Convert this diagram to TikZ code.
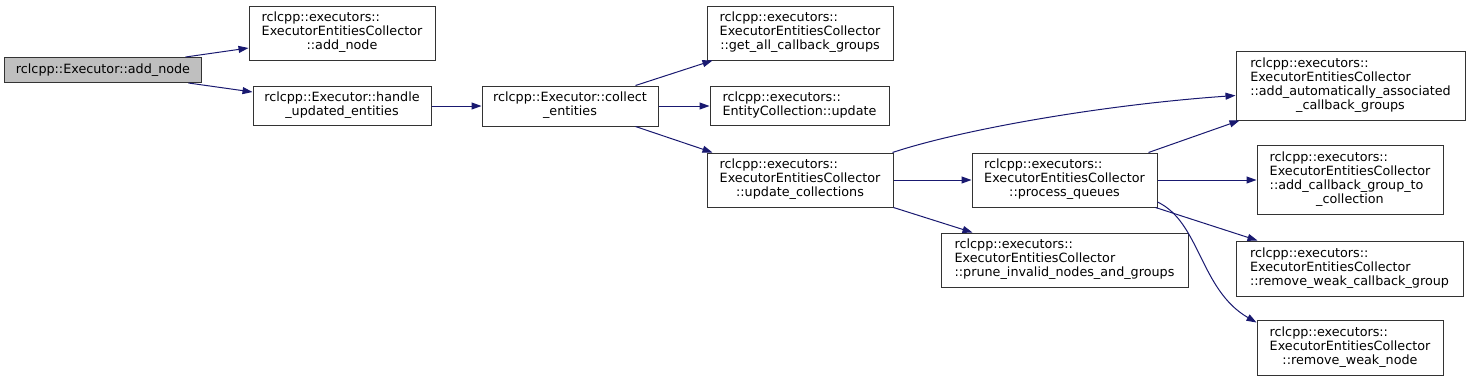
\documentclass[tikz,border=0pt]{standalone}
\usepackage{fontspec}
\setmainfont{DejaVu Sans}
\usetikzlibrary{arrows.meta,calc}
\definecolor{edgeblue}{RGB}{25,25,112}
\definecolor{nodegrey}{RGB}{191,191,191}
\definecolor{border}{RGB}{51,51,51}
\newcommand{\tlc}[2]{\begin{tabular}{@{}l@{}}#1\\\multicolumn{1}{@{}c@{}}{#2}\end{tabular}}
\newcommand{\tcc}[2]{\begin{tabular}{@{}c@{}}#1\\#2\end{tabular}}
\tikzset{
  fn/.style={draw=border, line width=1bp, rectangle, inner sep=0pt, fill=white,
    font=\fontsize{12.8}{14}\selectfont},
  edge/.style={draw=edgeblue, line width=1bp, -{Triangle[length=10bp,width=7bp]}},
}
\begin{document}
\begin{tikzpicture}[x=1bp,y=-1bp]
\useasboundingbox (0,0) rectangle (1469,381);
\node[fn, fill=nodegrey, minimum width=196bp, minimum height=25bp] (A) at (103,70) {rclcpp::Executor::add\_node};
\node[fn, minimum width=186bp, minimum height=54bp] (B) at (342,33) {\tlc{rclcpp::executors::\\ExecutorEntitiesCollector}{::add\_node}};
\node[fn, minimum width=178bp, minimum height=39bp] (C) at (342,106) {\tcc{rclcpp::Executor::handle}{\_updated\_entities}};
\node[fn, minimum width=176bp, minimum height=40bp] (D) at (570,106) {\tcc{rclcpp::Executor::collect}{\_entities}};
\node[fn, minimum width=186bp, minimum height=54bp] (E) at (800,33) {\tlc{rclcpp::executors::\\ExecutorEntitiesCollector}{::get\_all\_callback\_groups}};
\node[fn, minimum width=179bp, minimum height=39bp] (F) at (799.5,106) {\tlc{rclcpp::executors::}{EntityCollection::update}};
\node[fn, minimum width=186bp, minimum height=54bp] (G) at (800,180) {\tlc{rclcpp::executors::\\ExecutorEntitiesCollector}{::update\_collections}};
\node[fn, minimum width=185bp, minimum height=54bp] (H) at (1064.5,180) {\tlc{rclcpp::executors::\\ExecutorEntitiesCollector}{::process\_queues}};
\node[fn, minimum width=247bp, minimum height=54bp] (I) at (1064.5,260) {\tlc{rclcpp::executors::\\ExecutorEntitiesCollector}{::prune\_invalid\_nodes\_and\_groups}};
\node[fn, minimum width=229bp, minimum height=69bp] (J) at (1350.5,85.5) {\tlc{rclcpp::executors::\\ExecutorEntitiesCollector\\::add\_automatically\_associated}{\_callback\_groups}};
\node[fn, minimum width=186bp, minimum height=69bp] (K) at (1350,180) {\tlc{rclcpp::executors::\\ExecutorEntitiesCollector\\::add\_callback\_group\_to}{\_collection}};
\node[fn, minimum width=227bp, minimum height=55bp] (L) at (1349.5,268.5) {\tlc{rclcpp::executors::\\ExecutorEntitiesCollector}{::remove\_weak\_callback\_group}};
\node[fn, minimum width=186bp, minimum height=55bp] (M) at (1350,347.5) {\tlc{rclcpp::executors::\\ExecutorEntitiesCollector}{::remove\_weak\_node}};

\draw[edge] ($(A.north east)+(-16,0)$) -- ($(B.west)+(0,15)$);
\draw[edge] ($(A.south east)+(-13,0)$) -- ($(C.west)+(0,-14)$);
\draw[edge] (C.east) -- (D.west);
\draw[edge] ($(D.north east)+(-23,0)$) -- ($(E.south west)+(6,0)$);
\draw[edge] (D.east) -- (F.west);
\draw[edge] ($(D.south east)+(-23,0)$) -- ($(G.north west)+(6,0)$);
\draw[edge] ($(G.north east)+(-1,0)$) .. controls (960,130) and (1100,105) .. ($(J.west)+(0,10)$);
\draw[edge] (G.east) -- (H.west);
\draw[edge] (G.south east) -- ($(I.north west)+(32,0)$);
\draw[edge] ($(H.north east)+(-9,0)$) -- ($(J.south west)+(4,0)$);
\draw[edge] (H.east) -- (K.west);
\draw[edge] ($(H.south east)+(-2,0)$) -- ($(L.north west)+(22,0)$);
\draw[edge] ($(H.east)+(0,22)$) .. controls (1200,222) and (1200,290) .. ($(M.north west)+(0,3)$);
\end{tikzpicture}
\end{document}
